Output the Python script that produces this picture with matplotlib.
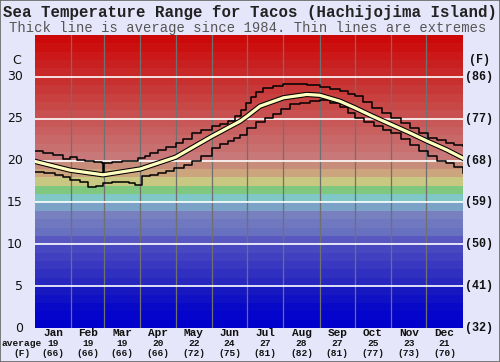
import matplotlib
matplotlib.use("Agg")
import matplotlib.pyplot as plt
import matplotlib.patheffects as pe
from matplotlib.patches import Rectangle

# ---------------- data ----------------
months = ["Jan", "Feb", "Mar", "Apr", "May", "Jun", "Jul", "Aug", "Sep", "Oct", "Nov", "Dec"]
month_avg_c = ["19", "19", "19", "20", "22", "24", "27", "28", "27", "25", "23", "21"]
month_avg_f = ["(66)", "(66)", "(66)", "(66)", "(72)", "(75)", "(81)", "(82)", "(81)", "(77)", "(73)", "(70)"]
month_start_days = [0, 31, 59, 90, 120, 151, 181, 212, 243, 273, 304, 334, 365]

c_ticks = [0, 5, 10, 15, 20, 25, 30]
f_labels = ["(32)", "(41)", "(50)", "(59)", "(68)", "(77)", "(86)"]

avg_days = [0, 30, 58, 90, 120, 151, 175, 181, 192, 212, 232, 243, 260, 273, 288, 304, 320, 335, 351, 365]
avg_temp = [19.9, 18.85, 18.3, 19.0, 20.4, 22.9, 24.7, 25.3, 26.5, 27.5, 27.9, 27.8, 27.1, 26.3, 25.3, 24.3, 23.3, 22.3, 21.3, 20.3]

max_days = [0, 7, 15, 24, 30, 36, 43, 50, 57, 58, 59, 66, 74, 82, 88, 94, 98, 105, 112, 120,
            126, 134, 142, 151, 158, 165, 171, 176, 180, 184, 189, 195, 203, 212, 222, 232,
            243, 252, 260, 267, 273, 280, 288, 296, 304, 312, 320, 328, 335, 343, 351, 358, 365]
max_temp = [21.1, 20.9, 20.7, 20.2, 20.4, 20.1, 19.9, 19.8, 19.7, 18.3, 19.7, 19.8, 19.9, 20.0,
            20.3, 20.6, 20.9, 21.3, 21.6, 22.1, 22.6, 23.3, 23.6, 24.1, 24.4, 24.7, 25.3, 26.1,
            26.9, 27.6, 28.2, 28.7, 28.9, 29.1, 29.1, 29.0, 28.8, 28.6, 28.3, 28.0, 27.7, 27.0,
            26.3, 25.7, 25.1, 24.5, 23.9, 23.3, 22.7, 22.4, 22.1, 21.9, 21.7]

min_days = [0, 8, 17, 24, 30, 38, 45, 52, 58, 66, 74, 80, 85, 91, 98, 105, 112, 119, 127, 134,
            142, 151, 158, 165, 170, 175, 181, 189, 196, 203, 210, 218, 226, 235, 243, 252,
            260, 267, 273, 281, 289, 297, 304, 312, 320, 328, 335, 343, 351, 358, 365]
min_temp = [18.6, 18.5, 18.3, 18.0, 17.7, 17.4, 16.9, 17.0, 17.3, 17.4, 17.5, 17.3, 17.1, 18.1,
            18.3, 18.5, 18.8, 19.1, 19.5, 19.9, 20.6, 21.5, 22.0, 22.3, 22.7, 23.0, 23.9, 24.6,
            25.1, 25.6, 26.2, 26.8, 26.9, 27.1, 27.2, 26.9, 26.4, 25.7, 25.1, 24.6, 24.1, 23.7,
            23.3, 22.6, 21.9, 21.2, 20.5, 20.0, 19.7, 19.2, 18.5]

# background band colours, one per degree from 0 to 35
band_colors = [
    "#0000CC", "#0404CC", "#0808C8", "#1010C4", "#1818C0",
    "#2828C0", "#3030C0", "#3838C0", "#4040C0", "#4848C0",
    "#5858C0", "#6870C0", "#7078C0", "#7880C0", "#7BA3C8",
    "#80C8C8", "#80C880", "#C8C882", "#CCA47E", "#C88C7A",
    "#C87878", "#C87070", "#C86868", "#C86060", "#C85858",
    "#C85050", "#C84848", "#C84040", "#C83838", "#C83030",
    "#C82828", "#C82020", "#CC1818", "#CC1010", "#CC0808",
]

BG = "#E6E6FA"

fig = plt.figure(figsize=(5.0, 3.62), dpi=100, facecolor=BG)
ax = fig.add_axes([35 / 500, 34 / 362, 427.7 / 500, 293 / 362])
ax.set_xlim(0, 365)
ax.set_ylim(0, 35)
for s in ax.spines.values():
    s.set_visible(False)

for i, col in enumerate(band_colors):
    ax.axhspan(i, i + 1, color=col, lw=0, zorder=0)

for d in month_start_days[1:-1]:
    ax.axvline(d, color="#707070", lw=0.9, zorder=1)
for t in c_ticks[1:]:
    ax.axhline(t, color="white", lw=1.2, zorder=2)

ax.plot(max_days, max_temp, color="black", lw=1.1, drawstyle="steps-post", zorder=3)
ax.plot(min_days, min_temp, color="black", lw=1.1, drawstyle="steps-post", zorder=3)
ax.plot(avg_days, avg_temp, color="#FFFFC0", lw=2.3, zorder=4,
        path_effects=[pe.Stroke(linewidth=3.8, foreground="black"), pe.Normal()])

ax.set_xticks([])
ax.set_yticks([])

mono = "Liberation Mono"
# left Celsius labels
for t in c_ticks:
    ax.text(-12 * 365 / 427.7, t, str(t), ha="right", va="center", fontsize=9,
            family="DejaVu Sans", color="#111111", clip_on=False)
ax.text(-18 * 365 / 427.7, 32, "C", ha="center", va="center", fontsize=9,
        family="DejaVu Sans", color="#111111", clip_on=False)
# right Fahrenheit labels
for t, lab in zip(c_ticks, f_labels):
    ax.text(365 + 2.5 * 365 / 427.7, t, lab, ha="left", va="center", fontsize=8.5,
            family=mono, weight="bold", color="#111111", clip_on=False)
ax.text(365 + 6 * 365 / 427.7, 32, "(F)", ha="left", va="center", fontsize=8.5,
        family=mono, weight="bold", color="#111111", clip_on=False)

# bottom month labels
for i, m in enumerate(months):
    xc = (month_start_days[i] + month_start_days[i + 1]) / 2
    xf = ax.transData.transform((xc, 0))[0] / 500
    fig.text(xf, 1 - 333.5 / 362, m, ha="center", va="center", fontsize=8,
             family=mono, weight="bold", color="#111111")
    fig.text(xf, 1 - 344 / 362, month_avg_c[i], ha="center", va="center", fontsize=6.8,
             family=mono, weight="bold", color="#111111")
    fig.text(xf, 1 - 353 / 362, month_avg_f[i], ha="center", va="center", fontsize=6.8,
             family=mono, weight="bold", color="#111111")
fig.text(22 / 500, 1 - 344 / 362, "average", ha="center", va="center", fontsize=6.8,
         family=mono, weight="bold", color="#111111")
fig.text(22 / 500, 1 - 353 / 362, "(F)", ha="center", va="center", fontsize=6.8,
         family=mono, weight="bold", color="#111111")

# titles
fig.text(0.5, 1 - 12.5 / 362, "Sea Temperature Range for Tacos (Hachijojima Island)",
         ha="center", va="center", fontsize=11.3, family=mono, weight="bold", color="#222222")
fig.text(0.496, 1 - 28 / 362, "Thick line is average since 1984. Thin lines are extremes",
         ha="center", va="center", fontsize=10, family=mono, color="#555555")

fig.patches.append(Rectangle((0, 0), 1, 1, transform=fig.transFigure, fill=False,
                             edgecolor="#666666", lw=1.2))

fig.savefig("out.png", dpi=100, facecolor=BG)
